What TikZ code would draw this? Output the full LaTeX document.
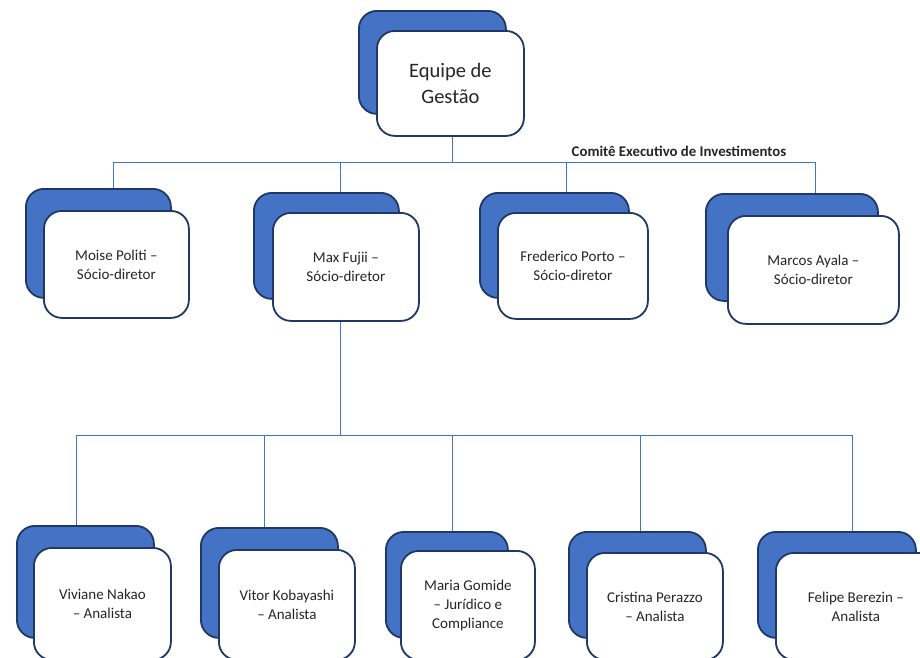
\documentclass[tikz,border=0pt]{standalone}
\usepackage{fontspec}
\setmainfont{Carlito}
\definecolor{cardblue}{HTML}{4472C4}
\definecolor{cardedge}{HTML}{1F3864}
\definecolor{connblue}{HTML}{4472C4}
\definecolor{txt}{HTML}{262626}
\tikzset{
  backcard/.style={draw=cardedge, fill=cardblue, line width=1.8pt, rounded corners=18pt, anchor=north west, inner sep=0pt},
  frontcard/.style={draw=cardedge, fill=white, line width=1.8pt, rounded corners=18pt, anchor=north west, inner sep=0pt, text=txt, align=center, font=\fontsize{15}{19}\selectfont},
  bigcard/.style={frontcard, font=\fontsize{20.5}{26}\selectfont},
  conn/.style={draw=connblue, line width=0.9pt},
  lbl/.style={font=\bfseries\fontsize{14.8}{16}\selectfont, text=txt, inner sep=0pt},
  wh/.style 2 args={minimum width=#1pt, minimum height=#2pt}
}
\begin{document}
\begin{tikzpicture}[x=1pt,y=-1pt]
\path[use as bounding box] (0,0) rectangle (920,657);
\clip (0,0) rectangle (920,657);
\fill[white] (0,0) rectangle (920,657);
% top
\node[backcard, wh={147}{103}] (topb) at (358,10) {};
\node[bigcard, wh={147}{105}] (top) at (376,30) {Equipe de\\Gestão};
% middle row
\node[backcard, wh={145}{109}] (m1b) at (25,188) {};
\node[frontcard, wh={145}{107}] (m1) at (43,210) {Moise Politi –\\Sócio-diretor};
\node[backcard, wh={145}{106}] (m2b) at (253,192) {};
\node[frontcard, wh={146}{108}] (m2) at (272,212) {Max Fujii –\\Sócio-diretor};
\node[backcard, wh={149}{105}] (m3b) at (479,192) {};
\node[frontcard, wh={150}{106}] (m3) at (497,212) {Frederico Porto –\\Sócio-diretor};
\node[backcard, wh={172}{107}] (m4b) at (705,193) {};
\node[frontcard, wh={171}{108}] (m4) at (727,215) {Marcos Ayala –\\Sócio-diretor};
% bottom row
\node[backcard, wh={137}{112}] (b1b) at (16,525) {};
\node[frontcard, wh={137}{112}] (b1) at (33,547) {Viviane Nakao\\– Analista};
\node[backcard, wh={137}{110}] (b2b) at (200,527) {};
\node[frontcard, wh={136}{110}] (b2) at (218,549) {Vitor Kobayashi\\– Analista};
\node[backcard, wh={122}{106}] (b3b) at (385,531) {};
\node[frontcard, wh={134}{109}] (b3) at (400,550) {Maria Gomide\\– Jurídico e\\Compliance};
\node[backcard, wh={137}{106}] (b4b) at (568,531) {};
\node[frontcard, wh={136}{107}] (b4) at (586,552) {Cristina Perazzo\\– Analista};
\node[backcard, wh={158}{106}] (b5b) at (757,531) {};
\node[frontcard, wh={160}{107}] (b5) at (775,552) {Felipe Berezin –\\Analista};
% label
\node[lbl] (cei) at (679,151) {Comitê Executivo de Investimentos};
% connectors top -> middle
\coordinate (t0) at (452,162);
\coordinate (j1) at (113,162);
\coordinate (j2) at (340,162);
\coordinate (j3) at (566,162);
\coordinate (j4) at (815,162);
\draw[conn] (t0 |- top.south) -- (t0);
\draw[conn] (j1) -- (j4);
\draw[conn] (j1) -- (j1 |- m1b.north);
\draw[conn] (j2) -- (j2 |- m2b.north);
\draw[conn] (j3) -- (j3 |- m3b.north);
\draw[conn] (j4) -- (j4 |- m4b.north);
% connectors middle -> bottom
\coordinate (k0) at (340,435);
\coordinate (k1) at (76,435);
\coordinate (k2) at (264,435);
\coordinate (k3) at (452,435);
\coordinate (k4) at (640,435);
\coordinate (k5) at (852,435);
\draw[conn] (k0 |- m2.south) -- (k0);
\draw[conn] (k1) -- (k5);
\draw[conn] (k1) -- (k1 |- b1b.north);
\draw[conn] (k2) -- (k2 |- b2b.north);
\draw[conn] (k3) -- (k3 |- b3b.north);
\draw[conn] (k4) -- (k4 |- b4b.north);
\draw[conn] (k5) -- (k5 |- b5b.north);
\end{tikzpicture}
\end{document}
